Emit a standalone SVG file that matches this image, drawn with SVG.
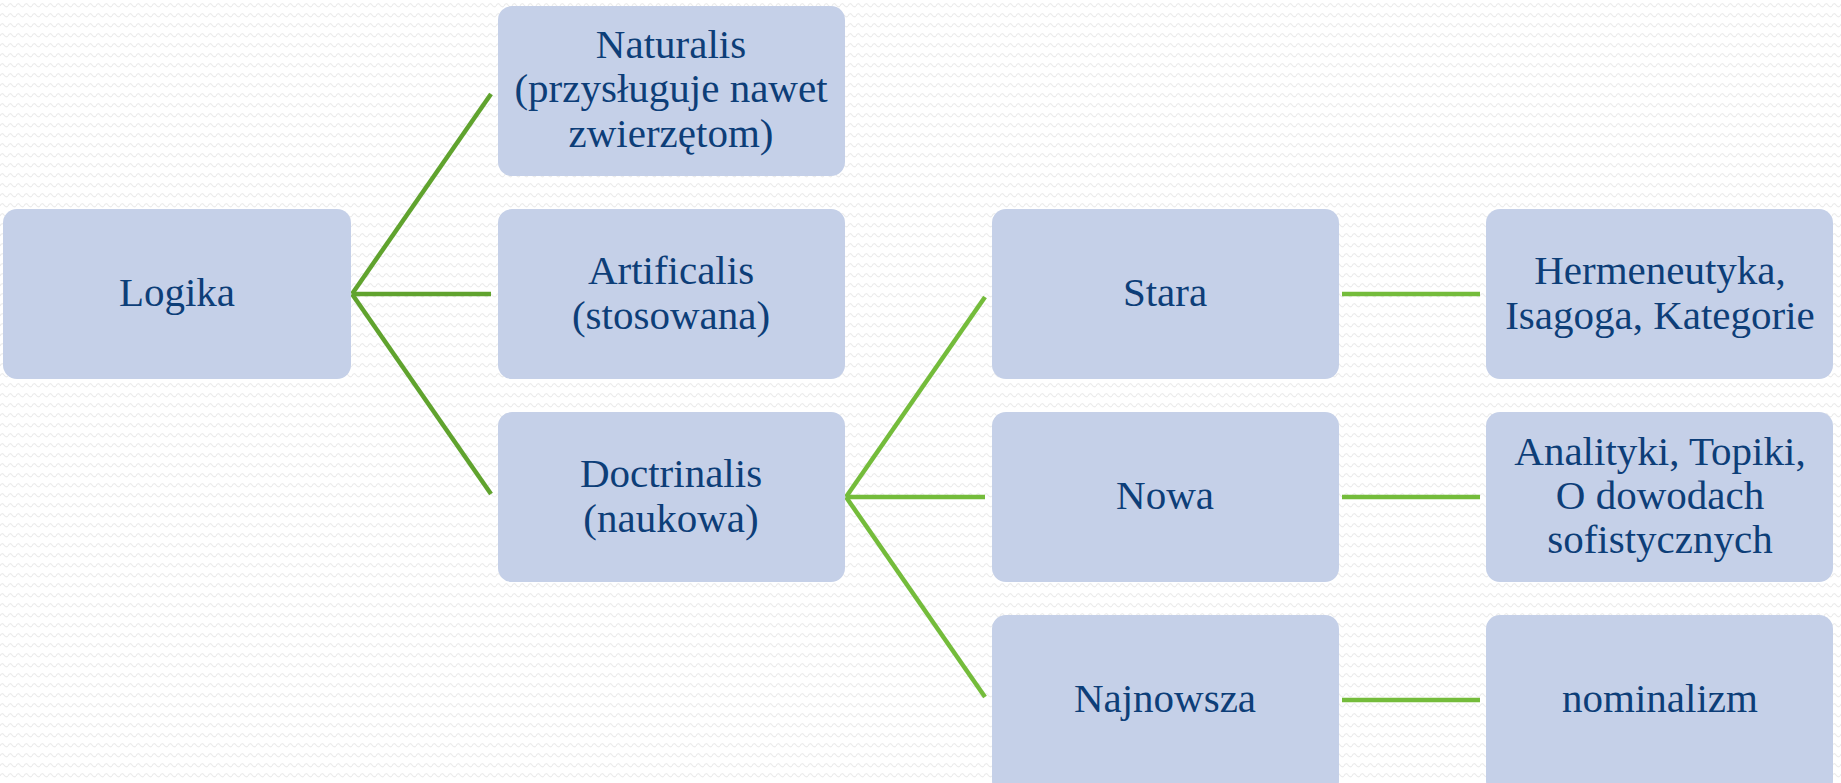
<svg xmlns="http://www.w3.org/2000/svg" width="1841" height="783" viewBox="0 0 1841 783">
<defs>
<pattern id="wave" width="8" height="10" patternUnits="userSpaceOnUse">
<path d="M0,6 Q2,2 4,5 T8,6" fill="none" stroke="#ebebeb" stroke-width="1.2"/>
</pattern>
<style>
.box{fill:#c5d0e8}
.t{font-family:"Liberation Serif","DejaVu Serif",serif;font-size:41px;fill:#0d3e78;text-anchor:middle}
.c1{stroke:#60a32e;stroke-width:4.5;fill:none}
.c2{stroke:#74bc3b;stroke-width:4.5;fill:none}
</style>
</defs>
<rect width="1841" height="783" fill="#ffffff"/>
<rect width="1841" height="783" fill="url(#wave)"/>
<g id="connectors">
<line class="c1" x1="352" y1="294" x2="491" y2="94"/>
<line class="c1" x1="352" y1="294" x2="491" y2="294"/>
<line class="c1" x1="352" y1="294" x2="491" y2="494"/>
<line class="c2" x1="846" y1="497" x2="985" y2="297"/>
<line class="c2" x1="846" y1="497" x2="985" y2="497"/>
<line class="c2" x1="846" y1="497" x2="985" y2="697"/>
<line class="c2" x1="1342" y1="294" x2="1480" y2="294"/>
<line class="c2" x1="1342" y1="497" x2="1480" y2="497"/>
<line class="c2" x1="1342" y1="700" x2="1480" y2="700"/>
</g>
<g id="logika">
<rect class="box" x="3" y="209" width="348" height="170" rx="14"/>
<text class="t" x="177" y="306">Logika</text>
</g>
<g id="naturalis">
<rect class="box" x="498" y="6" width="347" height="170" rx="14"/>
<text class="t" x="671" y="58">Naturalis</text>
<text class="t" x="671" y="102">(przysługuje nawet</text>
<text class="t" x="671" y="147">zwierzętom)</text>
</g>
<g id="artificalis">
<rect class="box" x="498" y="209" width="347" height="170" rx="14"/>
<text class="t" x="671" y="284">Artificalis</text>
<text class="t" x="671" y="329">(stosowana)</text>
</g>
<g id="doctrinalis">
<rect class="box" x="498" y="412" width="347" height="170" rx="14"/>
<text class="t" x="671" y="487">Doctrinalis</text>
<text class="t" x="671" y="532">(naukowa)</text>
</g>
<g id="stara">
<rect class="box" x="992" y="209" width="347" height="170" rx="14"/>
<text class="t" x="1165" y="306">Stara</text>
</g>
<g id="nowa">
<rect class="box" x="992" y="412" width="347" height="170" rx="14"/>
<text class="t" x="1165" y="509">Nowa</text>
</g>
<g id="najnowsza">
<rect class="box" x="992" y="615" width="347" height="180" rx="14"/>
<text class="t" x="1165" y="712">Najnowsza</text>
</g>
<g id="hermeneutyka">
<rect class="box" x="1486" y="209" width="347" height="170" rx="14"/>
<text class="t" x="1660" y="284">Hermeneutyka,</text>
<text class="t" x="1660" y="329">Isagoga, Kategorie</text>
</g>
<g id="analityki">
<rect class="box" x="1486" y="412" width="347" height="170" rx="14"/>
<text class="t" x="1660" y="465">Analityki, Topiki,</text>
<text class="t" x="1660" y="509">O dowodach</text>
<text class="t" x="1660" y="553">sofistycznych</text>
</g>
<g id="nominalizm">
<rect class="box" x="1486" y="615" width="347" height="180" rx="14"/>
<text class="t" x="1660" y="712">nominalizm</text>
</g>
</svg>
